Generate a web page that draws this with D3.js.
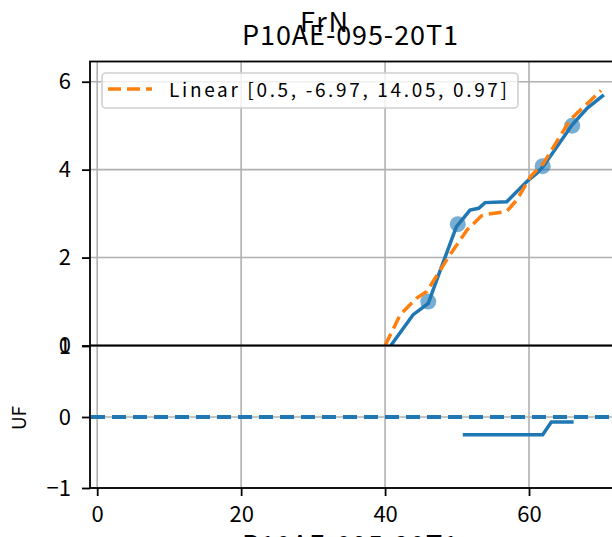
<!DOCTYPE html>
<html>
<head>
<meta charset="utf-8">
<script src="https://cdn.jsdelivr.net/npm/d3@7"></script>
<style>
  body { margin: 0; background: #fff; }
  text { font-family: "Noto Sans CJK SC", "DejaVu Sans", sans-serif; fill: #000; }
</style>
</head>
<body>
<div id="chart"></div>
<script>
// values
const fitX = [40, 42.1, 44.4, 45.8, 49, 51.4, 53.4, 54.4, 56.9, 58.3, 60.2, 62, 65.7, 70];
const fitY = [0, 0.7, 1.08, 1.23, 2.06, 2.63, 2.95, 2.99, 3.05, 3.31, 3.84, 4.14, 5.13, 5.8];
const obsX = [40.8, 43.9, 46, 47.6, 49.9, 51.8, 53, 53.9, 56.9, 59.7, 61.1, 62, 66, 68.1, 70.4];
const obsY = [0, 0.7, 0.96, 1.68, 2.7, 3.08, 3.12, 3.25, 3.27, 3.73, 3.92, 4.08, 5.02, 5.4, 5.7];
const ptX = [46, 50.1, 61.9, 66];
const ptY = [1.0, 2.76, 4.08, 5.0];
const resX = [50.8, 61.9, 63.1, 66.2];
const resY = [-0.25, -0.25, -0.07, -0.07];

const xTicks = [0, 20, 40, 60];
const topTicks = [0, 2, 4, 6];
const botTicks = [-1, 0, 1];
const legendLabel = "Linear [0.5, -6.97, 14.05, 0.97]";
const title1 = "FrN";
const title2 = "P10AE-095-20T1";

const width = 612;
const height = 537;
const blue = "#1f77b4";
const orange = "#ff7f0e";
const grid = "#b0b0b0";

const xScale = d3.scaleLinear()
  .domain([-1, 75])
  .range([90, 97.2 + 7.197 * 75]);

const yTop = d3.scaleLinear()
  .domain([0, 6.46])
  .range([345.5, 61.5]);

const yBot = d3.scaleLinear()
  .domain([-1, 1])
  .range([488, 346]);

const svg = d3.select("#chart")
  .append("svg")
  .attr("width", width)
  .attr("height", height);

const right = xScale.range()[1];

// grid lines
function drawGrid(yScale, yt) {
  const g = svg.append("g");
  g.selectAll("line.v")
    .data(xTicks).enter()
    .append("line")
    .attr("x1", d => xScale(d)).attr("x2", d => xScale(d))
    .attr("y1", yScale.range()[0]).attr("y2", yScale.range()[1])
    .attr("stroke", grid).attr("stroke-width", 1.6);
  g.selectAll("line.h")
    .data(yt).enter()
    .append("line")
    .attr("x1", 90).attr("x2", right)
    .attr("y1", d => yScale(d)).attr("y2", d => yScale(d))
    .attr("stroke", grid).attr("stroke-width", 1.6);
}
drawGrid(yTop, topTicks);
drawGrid(yBot, botTicks);

const line = (xs, ys, yScale) => d3.line()
  .x((d, i) => xScale(xs[i]))
  .y((d, i) => yScale(ys[i]))(xs);

// top panel
svg.selectAll("circle.pt")
  .data(ptX).enter()
  .append("circle")
  .attr("cx", d => xScale(d))
  .attr("cy", (d, i) => yTop(ptY[i]))
  .attr("r", 8)
  .attr("fill", blue)
  .attr("fill-opacity", 0.6);

svg.append("path")
  .attr("d", line(obsX, obsY, yTop))
  .attr("fill", "none")
  .attr("stroke", blue)
  .attr("stroke-width", 3.5);

svg.append("path")
  .attr("d", line(fitX, fitY, yTop))
  .attr("fill", "none")
  .attr("stroke", orange)
  .attr("stroke-width", 3.5)
  .attr("stroke-dasharray", "13,6");

// bottom panel
svg.append("line")
  .attr("x1", 90).attr("x2", right)
  .attr("y1", yBot(0)).attr("y2", yBot(0))
  .attr("stroke", blue)
  .attr("stroke-width", 3.8)
  .attr("stroke-dasharray", "14,7")
  .attr("stroke-dashoffset", -1);

svg.append("path")
  .attr("d", line(resX, resY, yBot))
  .attr("fill", "none")
  .attr("stroke", blue)
  .attr("stroke-width", 3.5);

// spines
svg.append("rect")
  .attr("x", 90).attr("y", yTop.range()[1])
  .attr("width", right - 90)
  .attr("height", yBot.range()[0] - yTop.range()[1])
  .attr("fill", "none")
  .attr("stroke", "#000")
  .attr("stroke-width", 1.8);

svg.append("line")
  .attr("x1", 90).attr("x2", right)
  .attr("y1", 345.5).attr("y2", 345.5)
  .attr("stroke", "#000")
  .attr("stroke-width", 1.8);

// axes
const fontSize = "22px";

const axTop = svg.append("g")
  .attr("transform", "translate(90,0)")
  .call(d3.axisLeft(yTop).tickValues(topTicks).tickSize(8).tickPadding(11).tickFormat(d3.format("d")));

const axBot = svg.append("g")
  .attr("transform", "translate(90,0)")
  .call(d3.axisLeft(yBot).tickValues(botTicks).tickSize(8).tickPadding(11)
    .tickFormat(d => d < 0 ? "\u2212" + Math.abs(d) : d));

const axX = svg.append("g")
  .attr("transform", "translate(0,488)")
  .call(d3.axisBottom(xScale).tickValues(xTicks).tickSize(8).tickPadding(10).tickFormat(d3.format("d")));

[axTop, axBot, axX].forEach(ax => {
  ax.select(".domain").remove();
  ax.selectAll(".tick line").attr("stroke", "#000").attr("stroke-width", 1.8);
  ax.selectAll(".tick text").attr("font-size", fontSize).attr("fill", "#000")
    .style("font-family", "'Noto Sans CJK SC', sans-serif");
});

// legend
const leg = svg.append("g");
leg.append("rect")
  .attr("x", 102).attr("y", 73)
  .attr("width", 416).attr("height", 35)
  .attr("rx", 4)
  .attr("fill", "#fff")
  .attr("fill-opacity", 0.8)
  .attr("stroke", "#d0d0d0")
  .attr("stroke-width", 1.6);
leg.append("line")
  .attr("x1", 108).attr("x2", 152)
  .attr("y1", 89).attr("y2", 89)
  .attr("stroke", orange)
  .attr("stroke-width", 3.5)
  .attr("stroke-dasharray", "13,6");
leg.append("text")
  .attr("x", 169).attr("y", 97)
  .attr("font-size", "19px")
  .attr("textLength", 338)
  .attr("lengthAdjust", "spacing")
  .text(legendLabel);

// titles and labels
svg.append("text")
  .attr("x", 300).attr("y", 32)
  .attr("font-size", "27px")
  .attr("textLength", 48)
  .attr("lengthAdjust", "spacing")
  .text(title1);

svg.append("text")
  .attr("x", 242).attr("y", 45)
  .attr("font-size", "27px")
  .attr("textLength", 216)
  .attr("lengthAdjust", "spacing")
  .text(title2);

svg.append("text")
  .attr("x", 242).attr("y", 555)
  .attr("font-size", "27px")
  .attr("textLength", 216)
  .attr("lengthAdjust", "spacing")
  .text(title2);

svg.append("text")
  .attr("transform", "rotate(-90)")
  .attr("x", -418).attr("y", 26)
  .attr("text-anchor", "middle")
  .attr("font-size", "19px")
  .text("UF");
</script>
</body>
</html>
